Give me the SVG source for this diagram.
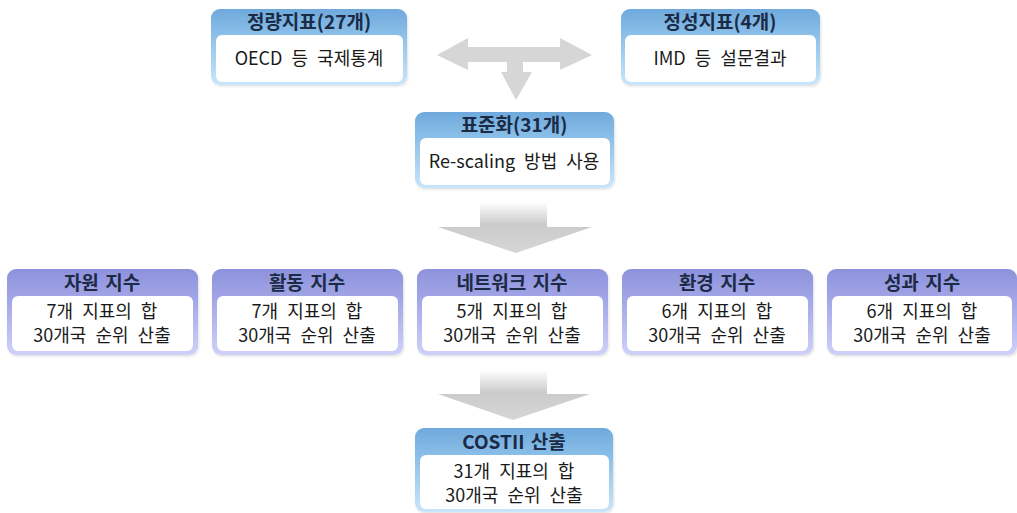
<svg xmlns="http://www.w3.org/2000/svg" width="1017" height="513" viewBox="0 0 1017 513">
<defs>
<linearGradient id="gBlue" x1="0" y1="0" x2="0" y2="1">
<stop offset="0" stop-color="#6fa9dc"/>
<stop offset="0.35" stop-color="#8cc0e9"/>
<stop offset="1" stop-color="#c9e6fa"/>
</linearGradient>
<linearGradient id="gPurple" x1="0" y1="0" x2="0" y2="1">
<stop offset="0" stop-color="#8e92dc"/>
<stop offset="0.35" stop-color="#a2a6e6"/>
<stop offset="1" stop-color="#cfd1f8"/>
</linearGradient>
<linearGradient id="gArrow" x1="0" y1="0" x2="0" y2="1">
<stop offset="0" stop-color="#ffffff"/>
<stop offset="0.45" stop-color="#cbcbcb"/>
<stop offset="1" stop-color="#d6d6d6"/>
</linearGradient>
<filter id="sh" x="-5%" y="-5%" width="110%" height="115%">
<feDropShadow dx="1" dy="1.5" stdDeviation="1" flood-color="#000" flood-opacity="0.12"/>
</filter>
</defs>
<style>
.ob{fill:url(#gBlue);filter:url(#sh)}
.op{fill:url(#gPurple);filter:url(#sh)}
.in{fill:#ffffff}
.hd{font-family:"Noto Sans CJK KR","Noto Sans",sans-serif;font-weight:bold;font-size:19px;word-spacing:2px;fill:#1c2b45;text-anchor:middle}
.bd{font-family:"Noto Sans CJK KR","Noto Sans",sans-serif;font-size:18px;word-spacing:5px;fill:#1a1a1a;text-anchor:middle}
</style>
<g id="connectors">
<path d="M437,55 L468,38 L468,47 L560,47 L560,38 L592,55 L560,70 L560,62 L523,62 L523,72 L532,72 L516,100 L501,72 L507,72 L507,62 L468,62 L468,70 Z" fill="#d6d6d6"/>
<path d="M480,202 L547,202 L547,227 L592,227 L516,253 L438,227 L480,227 Z" fill="url(#gArrow)"/>
<path d="M480,370 L547,370 L547,394 L590,394 L513,420 L438,394 L480,394 Z" fill="url(#gArrow)"/>
</g>
<g id="node-quant">
<rect class="ob" x="211" y="9" width="196" height="76" rx="9"/>
<rect class="in" x="216" y="35" width="187" height="47" rx="6"/>
<text class="hd" x="309" y="29">정량지표(27개)</text>
<text class="bd" x="309" y="65">OECD 등 국제통계</text>
</g>
<g id="node-qual">
<rect class="ob" x="621" y="9" width="199" height="76" rx="9"/>
<rect class="in" x="625" y="35" width="191" height="47" rx="6"/>
<text class="hd" x="720" y="29">정성지표(4개)</text>
<text class="bd" x="720" y="65">IMD 등 설문결과</text>
</g>
<g id="node-std">
<rect class="ob" x="415" y="112" width="199" height="76" rx="9"/>
<rect class="in" x="420" y="138" width="190" height="47" rx="6"/>
<text class="hd" x="514" y="132">표준화(31개)</text>
<text class="bd" x="514" y="168">Re-scaling 방법 사용</text>
</g>
<g id="node-resource">
<rect class="op" x="7" y="269" width="191" height="86" rx="9"/>
<rect class="in" x="12" y="296" width="181" height="55" rx="6"/>
<text class="hd" x="102" y="290">자원 지수</text>
<text class="bd" x="102" y="318">7개 지표의 합</text>
<text class="bd" x="102" y="342">30개국 순위 산출</text>
</g>
<g id="node-activity">
<rect class="op" x="212" y="269" width="191" height="86" rx="9"/>
<rect class="in" x="217" y="296" width="181" height="55" rx="6"/>
<text class="hd" x="307" y="290">활동 지수</text>
<text class="bd" x="307" y="318">7개 지표의 합</text>
<text class="bd" x="307" y="342">30개국 순위 산출</text>
</g>
<g id="node-network">
<rect class="op" x="417" y="269" width="191" height="86" rx="9"/>
<rect class="in" x="422" y="296" width="181" height="55" rx="6"/>
<text class="hd" x="512" y="290">네트워크 지수</text>
<text class="bd" x="512" y="318">5개 지표의 합</text>
<text class="bd" x="512" y="342">30개국 순위 산출</text>
</g>
<g id="node-environment">
<rect class="op" x="622" y="269" width="191" height="86" rx="9"/>
<rect class="in" x="627" y="296" width="181" height="55" rx="6"/>
<text class="hd" x="717" y="290">환경 지수</text>
<text class="bd" x="717" y="318">6개 지표의 합</text>
<text class="bd" x="717" y="342">30개국 순위 산출</text>
</g>
<g id="node-performance">
<rect class="op" x="827" y="269" width="190" height="86" rx="9"/>
<rect class="in" x="832" y="296" width="180" height="55" rx="6"/>
<text class="hd" x="922" y="290">성과 지수</text>
<text class="bd" x="922" y="318">6개 지표의 합</text>
<text class="bd" x="922" y="342">30개국 순위 산출</text>
</g>
<g id="node-costii">
<rect class="ob" x="415" y="428" width="198" height="84" rx="9"/>
<rect class="in" x="420" y="455" width="189" height="54" rx="6"/>
<text class="hd" x="514" y="449">COSTII 산출</text>
<text class="bd" x="514" y="478">31개 지표의 합</text>
<text class="bd" x="514" y="502">30개국 순위 산출</text>
</g>
</svg>
